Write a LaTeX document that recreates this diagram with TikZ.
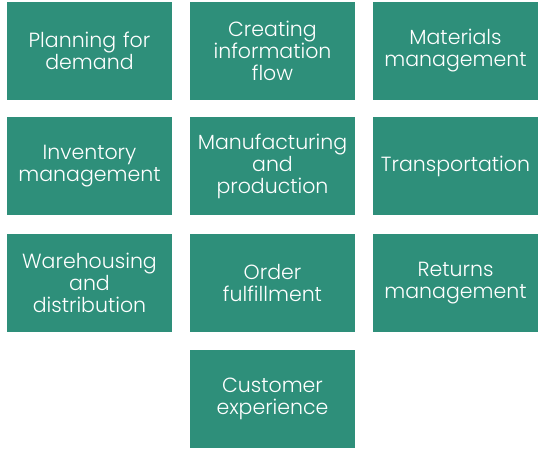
\documentclass[tikz,border=0pt]{standalone}
\usepackage{fontspec}
\setmainfont{Poppins}[UprightFont=* Light]
\definecolor{boxteal}{RGB}{46,143,122}
\begin{document}
\begin{tikzpicture}[x=1pt,y=-1pt,
  cell/.style={fill=boxteal,draw=none,minimum width=165pt,minimum height=98pt,inner sep=0pt,
    text=white,align=center,font=\fontsize{20.5}{22}\selectfont,text width=164pt}]
\useasboundingbox (0,0) rectangle (546,450);
\node[cell] (a1) at (89.5,50.5) {Planning for\\demand};
\node[cell] (a2) at (272.5,50.5) {Creating\\information\\flow};
\node[cell] (a3) at (455.5,50.5) {Materials\\management};
\node[cell] (b1) at (89.5,166) {Inventory\\management};
\node[cell] (b2) at (272.5,166) {Manufacturing\\and\\production};
\node[cell] (b3) at (455.5,166) {Transportation};
\node[cell] (c1) at (89.5,283) {Warehousing\\and\\distribution};
\node[cell] (c2) at (272.5,283) {Order\\fulfillment};
\node[cell] (c3) at (455.5,283) {Returns\\management};
\node[cell] (d2) at (272.5,399) {Customer\\experience};
\end{tikzpicture}
\end{document}
